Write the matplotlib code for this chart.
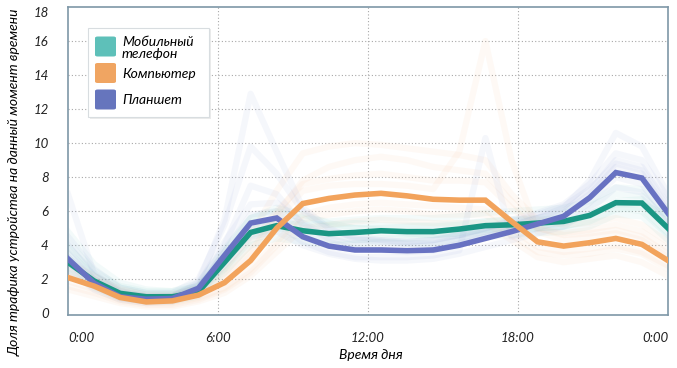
import numpy as np
import matplotlib.pyplot as plt
from matplotlib.patches import FancyBboxPatch

plt.rcParams['font.family'] = ['Lato', 'DejaVu Sans']

# 24 hourly samples, drawn from 0:00 to the next 0:00
hours = np.arange(24)

mobile = [3.0, 1.9, 1.17, 0.97, 0.97, 1.27, 3.0, 4.75, 5.15, 4.85, 4.68, 4.75,
          4.85, 4.8, 4.8, 4.95, 5.15, 5.2, 5.3, 5.4, 5.75, 6.5, 6.48, 5.0]
computer = [2.1, 1.6, 0.93, 0.67, 0.73, 1.07, 1.8, 3.1, 5.0, 6.45, 6.75, 6.95,
            7.05, 6.9, 6.7, 6.65, 6.65, 5.4, 4.2, 3.95, 4.15, 4.4, 4.05, 3.1]
tablet = [3.2, 1.77, 0.97, 0.83, 0.87, 1.47, 3.4, 5.3, 5.6, 4.5, 3.95, 3.72,
          3.72, 3.68, 3.72, 4.0, 4.4, 4.8, 5.25, 5.7, 6.8, 8.27, 7.95, 5.88]

# individual faint traces
mobile_faint = [
    [4.2, 2.5, 1.6, 1.3, 1.3, 1.8, 3.8, 5.6, 6.0, 5.6, 5.4, 5.5, 5.6, 5.6, 5.6, 5.7, 5.9, 6.0, 6.1, 6.2, 6.6, 7.4, 7.3, 5.9],
    [2.4, 1.5, 0.9, 0.7, 0.7, 1.0, 2.4, 4.0, 4.4, 4.2, 4.0, 4.1, 4.2, 4.1, 4.1, 4.3, 4.5, 4.6, 4.7, 4.8, 5.1, 5.8, 5.7, 4.3],
    [3.6, 2.2, 1.4, 1.1, 1.1, 1.5, 3.4, 5.2, 5.6, 5.3, 5.2, 5.3, 5.2, 5.2, 5.1, 5.2, 5.4, 5.5, 5.6, 5.9, 6.3, 7.0, 6.9, 5.5],
    [2.7, 1.7, 1.0, 0.8, 0.9, 1.2, 2.6, 4.3, 4.8, 4.5, 4.3, 4.3, 4.4, 4.4, 4.5, 4.6, 4.8, 4.9, 5.0, 5.1, 5.4, 6.1, 6.2, 4.7],
    [4.8, 2.9, 1.8, 1.4, 1.3, 1.6, 3.2, 4.9, 5.3, 5.2, 5.1, 5.0, 5.0, 5.1, 5.2, 5.3, 5.4, 5.5, 5.5, 5.6, 5.9, 6.4, 6.4, 5.8],
    [3.3, 2.0, 1.2, 0.9, 1.0, 1.4, 3.6, 5.6, 6.2, 5.8, 5.3, 5.0, 4.9, 4.7, 4.6, 4.7, 4.9, 5.0, 5.0, 5.1, 5.5, 6.2, 6.0, 4.6],
    [3.9, 2.4, 1.5, 1.2, 1.2, 1.6, 3.1, 4.6, 5.0, 4.9, 4.7, 4.7, 4.7, 4.6, 4.6, 4.7, 4.9, 5.0, 5.1, 5.3, 5.8, 6.6, 6.7, 5.3],
]
computer_faint = [
    [2.8, 2.0, 1.3, 1.0, 1.0, 1.4, 2.4, 4.0, 6.0, 7.6, 7.9, 8.1, 8.2, 8.0, 7.8, 7.8, 7.7, 6.2, 5.0, 4.7, 4.9, 5.2, 4.8, 3.8],
    [1.6, 1.2, 0.7, 0.5, 0.5, 0.8, 1.4, 2.4, 4.0, 5.5, 5.8, 6.0, 6.1, 6.0, 5.8, 5.8, 5.8, 4.6, 3.6, 3.4, 3.5, 3.8, 3.5, 2.6],
    [2.4, 1.8, 1.1, 0.8, 0.9, 1.2, 2.1, 3.6, 5.8, 7.8, 8.6, 9.0, 9.2, 9.0, 8.6, 8.4, 8.2, 6.6, 5.0, 4.6, 4.7, 4.9, 4.5, 3.5],
    [1.9, 1.4, 0.8, 0.6, 0.6, 0.9, 1.5, 2.6, 4.2, 5.8, 6.2, 6.4, 6.5, 6.4, 6.3, 6.2, 6.1, 5.0, 3.9, 3.6, 3.8, 4.0, 3.6, 2.8],
    [2.2, 1.6, 1.0, 0.7, 0.8, 1.1, 1.9, 3.4, 5.5, 7.2, 7.5, 7.6, 7.6, 7.5, 7.3, 9.5, 16.0, 9.0, 4.8, 4.3, 4.5, 4.7, 4.3, 3.3],
    [1.4, 1.0, 0.6, 0.4, 0.4, 0.7, 1.2, 2.2, 3.6, 5.0, 5.2, 5.4, 5.5, 5.4, 5.3, 5.3, 5.3, 4.3, 3.3, 3.0, 3.2, 3.4, 3.0, 2.2],
    [3.0, 2.2, 1.4, 1.1, 1.1, 1.5, 2.6, 4.6, 7.2, 9.4, 9.8, 10.0, 9.9, 9.7, 9.5, 9.3, 9.0, 7.0, 5.5, 5.2, 5.3, 5.6, 5.2, 4.2],
]
tablet_faint = [
    [7.0, 2.3, 1.3, 1.0, 1.0, 1.8, 5.5, 12.9, 9.5, 6.2, 5.0, 4.4, 4.2, 4.1, 4.1, 4.4, 4.8, 5.2, 5.6, 6.0, 7.2, 9.0, 8.6, 6.4],
    [4.0, 2.2, 1.2, 1.0, 1.0, 1.7, 4.2, 6.4, 6.5, 5.3, 4.6, 4.3, 4.3, 4.2, 4.3, 4.6, 5.0, 5.5, 5.9, 6.4, 7.6, 9.4, 9.0, 6.8],
    [2.6, 1.4, 0.8, 0.6, 0.7, 1.2, 2.8, 4.5, 4.8, 4.0, 3.5, 3.2, 3.1, 3.1, 3.2, 3.5, 3.9, 4.3, 4.7, 5.1, 6.1, 7.4, 7.1, 5.2],
    [3.5, 2.0, 1.1, 0.9, 0.9, 1.6, 4.0, 7.5, 7.0, 5.2, 4.4, 4.0, 3.9, 3.9, 4.0, 4.3, 4.7, 5.1, 5.6, 6.2, 7.8, 10.6, 9.8, 7.0],
    [3.0, 1.6, 0.9, 0.7, 0.8, 1.3, 3.0, 5.0, 5.3, 4.2, 3.6, 3.3, 3.3, 3.3, 3.4, 3.7, 10.3, 4.5, 5.0, 5.5, 6.5, 8.0, 7.6, 5.5],
    [4.5, 2.6, 1.5, 1.2, 1.2, 2.0, 5.2, 9.8, 8.2, 6.0, 4.9, 4.5, 4.3, 4.2, 4.3, 4.6, 5.0, 5.4, 5.8, 6.3, 7.3, 8.8, 8.4, 6.2],
    [3.3, 1.9, 1.0, 0.8, 0.8, 1.5, 3.6, 5.8, 6.0, 4.8, 4.2, 3.8, 3.7, 3.6, 3.7, 4.1, 4.5, 4.9, 5.4, 5.9, 7.0, 8.6, 8.2, 6.0],
]

x = hours * 24 / 23

W, H = 677, 368
fig = plt.figure(figsize=(W / 100, H / 100), dpi=100, facecolor='white')
ax = fig.add_axes([68 / W, 1 - 315 / H, 600 / W, 308 / H])

faint = {'mobile': '#5cc3b9', 'computer': '#f3b07a', 'tablet': '#7d8fd2'}
for ys in mobile_faint:
    ax.plot(x, ys, color=faint['mobile'], lw=4.5, alpha=0.07, zorder=2)
for ys in computer_faint:
    ax.plot(x, ys, color=faint['computer'], lw=4.5, alpha=0.07, zorder=2)
for ys in tablet_faint:
    ax.plot(x, ys, color=faint['tablet'], lw=4.5, alpha=0.07, zorder=2)

ax.plot(x, mobile, color='#1a9684', lw=4, solid_joinstyle='miter', zorder=5)
ax.plot(x, tablet, color='#6872c2', lw=4, solid_joinstyle='miter', zorder=6)
ax.plot(x, computer, color='#f2a35c', lw=4, solid_joinstyle='miter', zorder=7)

ax.set_xlim(0, 24)
ax.set_ylim(-0.1, 18)
ax.set_xticks([0, 6, 12, 18, 24])
ax.set_xticklabels(['0:00', '6:00', '12:00', '18:00', '0:00'], style='italic', fontsize=9.5)
ax.set_yticks(range(0, 19, 2))
ax.set_yticklabels([str(v) for v in range(0, 19, 2)], style='italic', fontsize=9.5)
ax.tick_params(length=0, colors='#222222')
ax.tick_params(axis='x', pad=12)
ax.tick_params(axis='y', pad=14)
lbls = ax.get_xticklabels()
lbls[0].set_ha('left')
lbls[-1].set_ha('right')
ax.get_yticklabels()[-1].set_va('top')

for v in [6, 12, 18]:
    ax.axvline(v, color='#a8a8a8', lw=0.8, ls=(0, (1, 2)), zorder=1)
for v in range(2, 18, 2):
    ax.axhline(v, color='#a8a8a8', lw=0.8, ls=(0, (1, 2)), zorder=1)

for s in ax.spines.values():
    s.set_color('#7e97a7')
    s.set_linewidth(1.2)

fig.text(371 / W, 1 - 355 / H, 'Время дня', ha='center', va='center',
         style='italic', fontsize=10)
fig.text(15 / W, 1 - 182 / H, 'Доля трафика устройства на данный момент времени',
         ha='center', va='center', rotation=90, style='italic', fontsize=10)

# legend box
def fx(px):
    return px / W

def fy(py):
    return 1 - py / H

shadow = FancyBboxPatch((fx(90), fy(119)), fx(121), 90 / H,
                        boxstyle='square,pad=0', transform=fig.transFigure,
                        facecolor='#000000', alpha=0.08, edgecolor='none', zorder=9)
fig.patches.append(shadow)
box = FancyBboxPatch((fx(88), fy(117)), fx(121), 89 / H,
                     boxstyle='square,pad=0', transform=fig.transFigure,
                     facecolor='white', edgecolor='#d8dde0', lw=0.8, zorder=10)
fig.patches.append(box)

legend_items = [('Мобильный\nтелефон', '#5ec0b9', 46.5, 48),
                ('Компьютер', '#f0a562', 73, 74),
                ('Планшет', '#6675bd', 99.5, 100)]
for label, col, sy, ty in legend_items:
    sw = FancyBboxPatch((fx(95), fy(sy + 10)), fx(21), 20 / H,
                        boxstyle='round,pad=0,rounding_size=0.004',
                        transform=fig.transFigure, facecolor=col,
                        edgecolor='none', zorder=11)
    fig.patches.append(sw)
    fig.text(fx(122), fy(ty), label, ha='left', va='center', style='italic',
             fontsize=10, linespacing=0.95, zorder=12)

fig.savefig('out.png', dpi=100, facecolor='white')
